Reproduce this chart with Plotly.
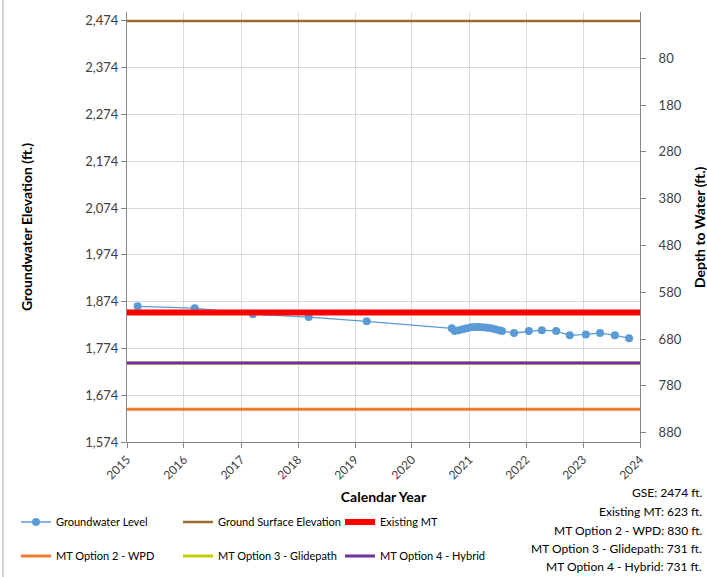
import plotly.graph_objects as go

# ---- data ----
gw_dates = ["2015-03-10", "2016-03-10", "2017-03-17", "2018-03-10", "2019-03-17",
            "2020-09-12", "2020-10-01", "2020-10-27", "2020-11-22", "2020-12-17",
            "2021-01-15", "2021-02-10", "2021-03-07", "2021-04-01", "2021-04-27",
            "2021-05-22", "2021-06-17", "2021-07-13", "2021-07-31", "2021-10-16",
            "2022-01-19", "2022-04-12", "2022-07-13", "2022-10-08", "2023-01-19",
            "2023-04-20", "2023-07-24", "2023-10-23"]
gw_elev = [1864, 1860, 1847, 1841, 1832,
           1817, 1811, 1813, 1815, 1817,
           1819, 1820, 1820, 1819, 1818,
           1817, 1815, 1813, 1811, 1807,
           1811, 1813, 1811, 1802, 1804,
           1807, 1802, 1796]

GSE = 2474
mt_names = ["Existing MT", "MT Option 2 - WPD", "MT Option 3 - Glidepath", "MT Option 4 - Hybrid"]
mt_depths = [623, 830, 731, 731]
mt_colors = ["#FF0000", "#ED7D31", "#C5D000", "#7030A0"]
mt_widths = [6, 3, 3, 3]

x_span = ["2015-01-01", "2024-01-01"]
year_ticks = [f"{y}-01-01" for y in range(2015, 2025)]
year_labels = [str(y) for y in range(2015, 2025)]
elev_ticks = [1574, 1674, 1774, 1874, 1974, 2074, 2174, 2274, 2374, 2474]
depth_ticks = [80, 180, 280, 380, 480, 580, 680, 780, 880]
elev_range = [1574, 2493]

FONT = "Lato, 'Open Sans', sans-serif"
W, H = 707, 577
ML, MR, MT_, MB = 127, 67, 12, 135
pw, ph = W - ML - MR, H - MT_ - MB


def px_x(p):
    return (p - ML) / pw


def px_y(p):
    return (H - MB - p) / ph


fig = go.Figure()

fig.add_trace(go.Scatter(
    x=gw_dates, y=gw_elev, mode="lines+markers", name="Groundwater Level",
    line=dict(color="#5B9BD5", width=1.3),
    marker=dict(color="#5B9BD5", size=8),
    legend="legend"))

fig.add_trace(go.Scatter(
    x=x_span, y=[GSE, GSE], mode="lines", name="Ground Surface Elevation",
    line=dict(color="#9C6A2E", width=2.5), legend="legend"))

for i, (nm, d, c, w) in enumerate(zip(mt_names, mt_depths, mt_colors, mt_widths)):
    fig.add_trace(go.Scatter(
        x=x_span, y=[d, d], mode="lines", name=nm, yaxis="y2",
        line=dict(color=c, width=w),
        legend="legend" if i == 0 else "legend2"))

depth_range = [GSE - elev_range[0], GSE - elev_range[1]]

fig.update_layout(
    width=W, height=H,
    margin=dict(l=ML, r=MR, t=MT_, b=MB, autoexpand=False),
    paper_bgcolor="white", plot_bgcolor="white",
    font=dict(family=FONT, size=13, color="#404040"),
    showlegend=True,
    xaxis=dict(
        range=x_span, type="date",
        tickmode="array", tickvals=year_ticks, ticktext=year_labels,
        tickangle=-45, tickfont=dict(size=12, color="#404040"),
        showgrid=True, gridcolor="#D9D9D9", gridwidth=1,
        showline=True, linecolor="#868686", linewidth=1,
        ticks="outside", ticklen=5, tickcolor="#868686",
        zeroline=False,
        title=dict(text="<b>Calendar Year</b>", font=dict(size=14, color="#000000"), standoff=10),
    ),
    yaxis=dict(
        range=elev_range,
        tickmode="array", tickvals=elev_ticks,
        tickformat=",d",
        showgrid=True, gridcolor="#D9D9D9", gridwidth=1,
        showline=True, linecolor="#868686", linewidth=1,
        ticks="outside", ticklen=5, tickcolor="#868686",
        zeroline=False,
        title=dict(text="<b>Groundwater Elevation (ft.)</b>", font=dict(size=14, color="#000000"), standoff=49),
    ),
    yaxis2=dict(
        range=depth_range, overlaying="y", side="right",
        tickmode="array", tickvals=depth_ticks,
        showgrid=False,
        showline=True, linecolor="#868686", linewidth=1,
        ticks="outside", ticklen=5, tickcolor="#868686",
        ticklabelstandoff=10,
        zeroline=False,
    ),
    legend=dict(
        orientation="h", x=px_x(16), y=px_y(522), xanchor="left", yanchor="middle",
        entrywidth=117, entrywidthmode="pixels",
        font=dict(size=11, color="#000000"), bgcolor="rgba(0,0,0,0)",
        itemwidth=30, traceorder="normal",
    ),
    legend2=dict(
        orientation="h", x=px_x(16), y=px_y(556), xanchor="left", yanchor="middle",
        entrywidth=117, entrywidthmode="pixels",
        font=dict(size=11, color="#000000"), bgcolor="rgba(0,0,0,0)",
        itemwidth=30, traceorder="normal",
    ),
)

# right axis title
fig.add_annotation(text="<b>Depth to Water (ft.)</b>", textangle=-90,
                   xref="paper", yref="paper", x=px_x(699), y=px_y(227),
                   xanchor="center", yanchor="middle", showarrow=False,
                   font=dict(size=14, color="#000000"))

# summary text on the lower right
summary = [f"GSE: {GSE} ft."] + [f"{n}: {d} ft." for n, d in zip(mt_names, mt_depths)]
summary_y = [492, 511, 530, 548, 566]
for t, yy in zip(summary, summary_y):
    fig.add_annotation(text=t, xref="paper", yref="paper", x=px_x(704), y=px_y(yy),
                       xanchor="right", yanchor="middle", showarrow=False,
                       font=dict(size=12, color="#000000"))

# chart border (left edge)
fig.add_shape(type="line", xref="paper", yref="paper",
              x0=px_x(3), x1=px_x(3), y0=px_y(0), y1=px_y(H),
              line=dict(color="#BFBFBF", width=1.5))

fig.write_html("out.html", config={"displayModeBar": False},
               post_script="document.body.style.margin='0';")
